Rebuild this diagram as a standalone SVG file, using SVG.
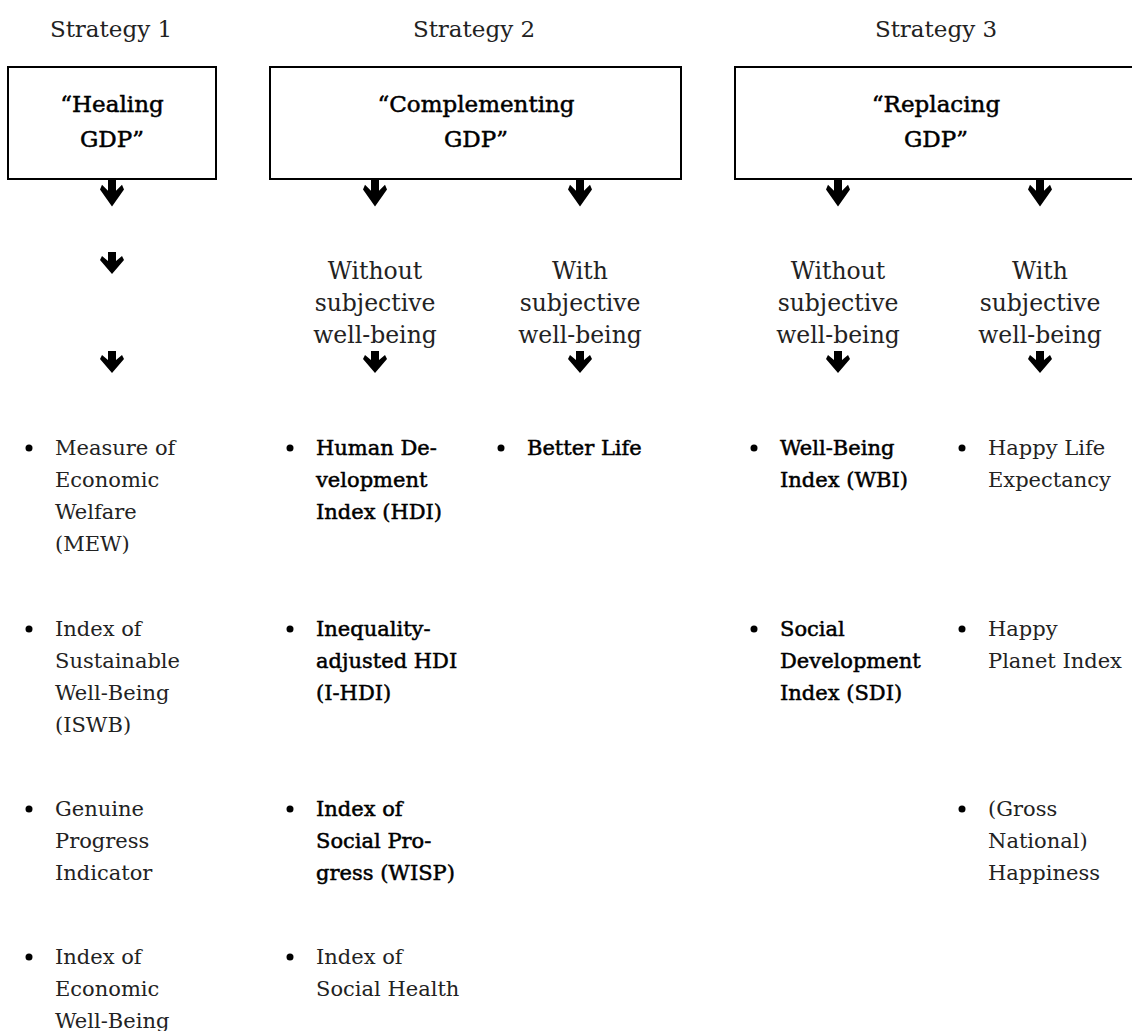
<svg xmlns="http://www.w3.org/2000/svg" xmlns:xlink="http://www.w3.org/1999/xlink" width="1132" height="1031" viewBox="0 0 1132 1031">
<style>
text{font-family:"DejaVu Serif","Liberation Serif",serif;fill:#222}
.lab{font-size:23px;text-anchor:middle}
.title{font-size:23px;text-anchor:middle;fill:#000;stroke:#000;stroke-width:0.5}
.sub{font-size:23.5px;text-anchor:middle}
.it{font-size:21px}
.b{fill:#000;stroke:#000;stroke-width:0.5}
.box{fill:none;stroke:#000;stroke-width:2}
.dot{fill:#000}
</style>
<defs>
<path id="arr" d="M-4,0 H4 V9 L10,4 L12,8 L0,22 L-12,8 L-10,4 L-4,9 Z" fill="#000"/>
</defs>
<rect width="1132" height="1031" fill="#fff"/>

<g id="strategy1">
<text class="lab" x="111" y="37">Strategy 1</text>
<rect class="box" x="8" y="67" width="208" height="112"/>
<text class="title" x="112" y="112">“Healing</text>
<text class="title" x="112" y="147">GDP”</text>
</g>
<g id="strategy2">
<text class="lab" x="474" y="37">Strategy 2</text>
<rect class="box" x="270" y="67" width="411" height="112"/>
<text class="title" x="476" y="112">“Complementing</text>
<text class="title" x="476" y="147">GDP”</text>
</g>
<g id="strategy3">
<text class="lab" x="936" y="37">Strategy 3</text>
<path class="box" d="M1140,67 H735 V179 H1140"/>
<text class="title" x="936" y="112">“Replacing</text>
<text class="title" x="936" y="147">GDP”</text>
</g>

<g id="sub2a">
<text class="sub" x="375" y="279">Without</text>
<text class="sub" x="375" y="311">subjective</text>
<text class="sub" x="375" y="343">well-being</text>
</g>
<g id="sub2b">
<text class="sub" x="580" y="279">With</text>
<text class="sub" x="580" y="311">subjective</text>
<text class="sub" x="580" y="343">well-being</text>
</g>
<g id="sub3a">
<text class="sub" x="838" y="279">Without</text>
<text class="sub" x="838" y="311">subjective</text>
<text class="sub" x="838" y="343">well-being</text>
</g>
<g id="sub3b">
<text class="sub" x="1040" y="279">With</text>
<text class="sub" x="1040" y="311">subjective</text>
<text class="sub" x="1040" y="343">well-being</text>
</g>

<g id="connectors">
<use xlink:href="#arr" href="#arr" transform="translate(112,180) scale(1,1.2)"/>
<use xlink:href="#arr" href="#arr" transform="translate(112,252)"/>
<use xlink:href="#arr" href="#arr" transform="translate(112,351)"/>
<use xlink:href="#arr" href="#arr" transform="translate(375,180) scale(1,1.2)"/>
<use xlink:href="#arr" href="#arr" transform="translate(580,180) scale(1,1.2)"/>
<use xlink:href="#arr" href="#arr" transform="translate(838,180) scale(1,1.2)"/>
<use xlink:href="#arr" href="#arr" transform="translate(1040,180) scale(1,1.2)"/>
<use xlink:href="#arr" href="#arr" transform="translate(375,351)"/>
<use xlink:href="#arr" href="#arr" transform="translate(580,351)"/>
<use xlink:href="#arr" href="#arr" transform="translate(838,351)"/>
<use xlink:href="#arr" href="#arr" transform="translate(1040,351)"/>
</g>

<g id="col1">
<circle class="dot" cx="29" cy="448" r="3.5"/>
<text class="it" x="55" y="455">Measure of</text>
<text class="it" x="55" y="487">Economic</text>
<text class="it" x="55" y="519">Welfare</text>
<text class="it" x="55" y="551">(MEW)</text>
<circle class="dot" cx="29" cy="629" r="3.5"/>
<text class="it" x="55" y="636">Index of</text>
<text class="it" x="55" y="668">Sustainable</text>
<text class="it" x="55" y="700">Well-Being</text>
<text class="it" x="55" y="732">(ISWB)</text>
<circle class="dot" cx="29" cy="809" r="3.5"/>
<text class="it" x="55" y="816">Genuine</text>
<text class="it" x="55" y="848">Progress</text>
<text class="it" x="55" y="880">Indicator</text>
<circle class="dot" cx="29" cy="957" r="3.5"/>
<text class="it" x="55" y="964">Index of</text>
<text class="it" x="55" y="996">Economic</text>
<text class="it" x="55" y="1028">Well-Being</text>
</g>

<g id="col2a">
<circle class="dot" cx="290" cy="448" r="3.5"/>
<text class="it b" x="316" y="455">Human De-</text>
<text class="it b" x="316" y="487">velopment</text>
<text class="it b" x="316" y="519">Index (HDI)</text>
<circle class="dot" cx="290" cy="629" r="3.5"/>
<text class="it b" x="316" y="636">Inequality-</text>
<text class="it b" x="316" y="668">adjusted HDI</text>
<text class="it b" x="316" y="700">(I-HDI)</text>
<circle class="dot" cx="290" cy="809" r="3.5"/>
<text class="it b" x="316" y="816">Index of</text>
<text class="it b" x="316" y="848">Social Pro-</text>
<text class="it b" x="316" y="880">gress (WISP)</text>
<circle class="dot" cx="290" cy="957" r="3.5"/>
<text class="it" x="316" y="964">Index of</text>
<text class="it" x="316" y="996">Social Health</text>
</g>

<g id="col2b">
<circle class="dot" cx="501" cy="448" r="3.5"/>
<text class="it b" x="527" y="455">Better Life</text>
</g>

<g id="col3a">
<circle class="dot" cx="754" cy="448" r="3.5"/>
<text class="it b" x="780" y="455">Well-Being</text>
<text class="it b" x="780" y="487">Index (WBI)</text>
<circle class="dot" cx="754" cy="629" r="3.5"/>
<text class="it b" x="780" y="636">Social</text>
<text class="it b" x="780" y="668">Development</text>
<text class="it b" x="780" y="700">Index (SDI)</text>
</g>

<g id="col3b">
<circle class="dot" cx="962" cy="448" r="3.5"/>
<text class="it" x="988" y="455">Happy Life</text>
<text class="it" x="988" y="487">Expectancy</text>
<circle class="dot" cx="962" cy="629" r="3.5"/>
<text class="it" x="988" y="636">Happy</text>
<text class="it" x="988" y="668">Planet Index</text>
<circle class="dot" cx="962" cy="809" r="3.5"/>
<text class="it" x="988" y="816">(Gross</text>
<text class="it" x="988" y="848">National)</text>
<text class="it" x="988" y="880">Happiness</text>
</g>
</svg>
